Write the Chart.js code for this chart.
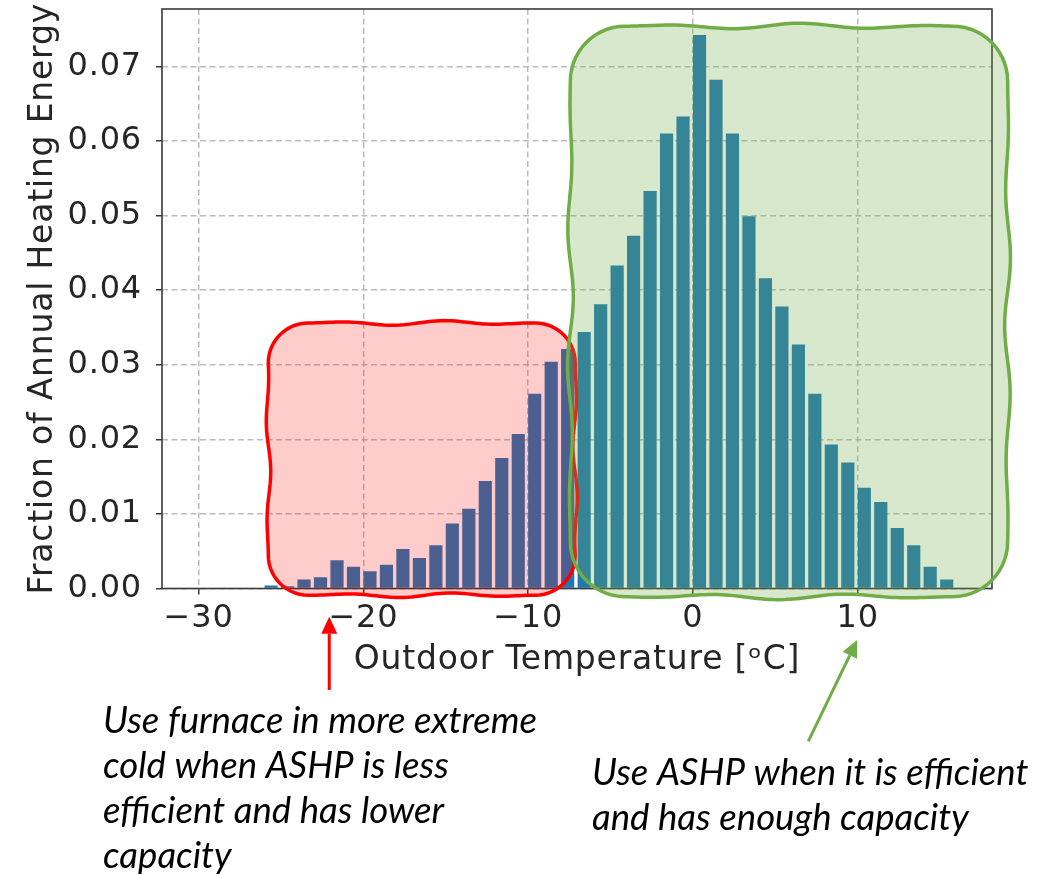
<!DOCTYPE html>
<html>
<head>
<meta charset="utf-8">
<script src="https://cdn.jsdelivr.net/npm/chart.js@4/dist/chart.umd.min.js"></script>
<style>
  html, body { margin: 0; padding: 0; background: #fff; }
  #wrap { width: 1043px; height: 875px; }
</style>
</head>
<body>
<div id="wrap"><canvas id="myChart" width="1043" height="875"></canvas></div>
<script>
// bin centres (outdoor temperature, degC) and fraction of annual heating energy
let temps = [-25.6, -24.6, -23.6, -22.6, -21.6, -20.6, -19.6, -18.6, -17.6, -16.6,
  -15.6, -14.6, -13.6, -12.6, -11.6, -10.6, -9.6, -8.6, -7.6, -6.6,
  -5.6, -4.6, -3.6, -2.6, -1.6, -0.6, 0.4, 1.4, 2.4, 3.4,
  4.4, 5.4, 6.4, 7.4, 8.4, 9.4, 10.4, 11.4, 12.4, 13.4,
  14.4, 15.4];
let fraction = [0.0004, 0.0003, 0.0012, 0.0015, 0.0038, 0.0029, 0.0023, 0.0032, 0.0053, 0.0041,
  0.0058, 0.0087, 0.0107, 0.0144, 0.0175, 0.0207, 0.0261, 0.0304, 0.0321, 0.0344,
  0.0381, 0.0433, 0.0473, 0.0533, 0.0610, 0.0633, 0.0742, 0.0682, 0.0610, 0.0499,
  0.0416, 0.0378, 0.0327, 0.0261, 0.0193, 0.0169, 0.0135, 0.0116, 0.0081, 0.0058,
  0.0029, 0.0012];

let xTicks = [-30, -20, -10, 0, 10];
let yTicks = [0, 0.01, 0.02, 0.03, 0.04, 0.05, 0.06, 0.07];

let leftNote = ['Use furnace in more extreme', 'cold when ASHP is less', 'efficient and has lower', 'capacity'];
let rightNote = ['Use ASHP when it is efficient', 'and has enough capacity'];

// highlighted zones, in data units
let redZone = {x0: -25.77, x1: -7.14, y0: -0.0009, y1: 0.0356, r: 40};
let greenZone = {x0: -7.44, x1: 19.1, y0: -0.0011, y1: 0.0754, r: 55};

/* wavy hand drawn box */
function wobblyBox(ctx, x0, y0, x1, y1, r, amp, wl) {
  let pts = [];
  function seg(ax, ay, bx, by, nx, ny) {
    let L = Math.hypot(bx - ax, by - ay);
    let n = Math.max(2, Math.round(L / 4));
    for (let i = 0; i < n; i++) {
      let t = i / n;
      let w = amp * Math.sin(Math.PI * 2 * t * L / wl) * Math.sin(Math.PI * t);
      pts.push([ax + (bx - ax) * t + nx * w, ay + (by - ay) * t + ny * w]);
    }
  }
  function arc(cx, cy, a0, a1) {
    for (let i = 0; i < 14; i++) {
      let a = a0 + (a1 - a0) * i / 14;
      pts.push([cx + r * Math.cos(a), cy + r * Math.sin(a)]);
    }
  }
  seg(x0 + r, y0, x1 - r, y0, 0, -1); arc(x1 - r, y0 + r, -Math.PI / 2, 0);
  seg(x1, y0 + r, x1, y1 - r, 1, 0); arc(x1 - r, y1 - r, 0, Math.PI / 2);
  seg(x1 - r, y1, x0 + r, y1, 0, 1); arc(x0 + r, y1 - r, Math.PI / 2, Math.PI);
  seg(x0, y1 - r, x0, y0 + r, -1, 0); arc(x0 + r, y0 + r, Math.PI, 1.5 * Math.PI);
  ctx.beginPath();
  pts.forEach(function(p, i) { if (i) ctx.lineTo(p[0], p[1]); else ctx.moveTo(p[0], p[1]); });
  ctx.closePath();
}

function arrow(ctx, x0, y0, x1, y1, color) {
  let ang = Math.atan2(y1 - y0, x1 - x0);
  let hl = 17, hw = 8;
  let bx = x1 - hl * Math.cos(ang), by = y1 - hl * Math.sin(ang);
  ctx.strokeStyle = color; ctx.fillStyle = color; ctx.lineWidth = 3;
  ctx.beginPath(); ctx.moveTo(x0, y0); ctx.lineTo(bx, by); ctx.stroke();
  ctx.beginPath();
  ctx.moveTo(x1, y1);
  ctx.lineTo(bx + hw * Math.sin(ang), by - hw * Math.cos(ang));
  ctx.lineTo(bx - hw * Math.sin(ang), by + hw * Math.cos(ang));
  ctx.closePath(); ctx.fill();
}

let framePlugin = {
  id: 'frame',
  beforeDraw: function(chart) {
    chart.ctx.letterSpacing = '0.8px';
  },
  afterDatasetsDraw: function(chart) {
    let a = chart.chartArea, ctx = chart.ctx;
    ctx.save();
    ctx.strokeStyle = '#3a3a3a'; ctx.lineWidth = 1.6;
    ctx.strokeRect(a.left, a.top, a.right - a.left, a.bottom - a.top);
    ctx.restore();
  }
};

let notesPlugin = {
  id: 'notes',
  afterDraw: function(chart) {
    let ctx = chart.ctx, sx = chart.scales.x, sy = chart.scales.y;
    ctx.save();
    ctx.letterSpacing = '0px';
    // red zone
    wobblyBox(ctx, sx.getPixelForValue(redZone.x0), sy.getPixelForValue(redZone.y1),
      sx.getPixelForValue(redZone.x1), sy.getPixelForValue(redZone.y0), redZone.r, 2.5, 110);
    ctx.fillStyle = 'rgba(255,0,0,0.2)'; ctx.fill();
    ctx.strokeStyle = '#ff0000'; ctx.lineWidth = 3.5; ctx.lineJoin = 'round'; ctx.stroke();
    // green zone
    wobblyBox(ctx, sx.getPixelForValue(greenZone.x0), sy.getPixelForValue(greenZone.y1),
      sx.getPixelForValue(greenZone.x1), sy.getPixelForValue(greenZone.y0), greenZone.r, 3, 140);
    ctx.fillStyle = 'rgba(112,173,71,0.28)'; ctx.fill();
    ctx.strokeStyle = '#70ad47'; ctx.lineWidth = 3.5; ctx.stroke();

    // arrows
    arrow(ctx, sx.getPixelForValue(-22.07), sy.getPixelForValue(-0.0136),
      sx.getPixelForValue(-22.07), sy.getPixelForValue(-0.0038), '#ff0000');
    arrow(ctx, sx.getPixelForValue(7.0), sy.getPixelForValue(-0.0205),
      sx.getPixelForValue(9.97), sy.getPixelForValue(-0.0069), '#70ad47');

    // notes
    ctx.font = 'italic 30px Lato';
    let fs = 30 * 434 / ctx.measureText(leftNote[0]).width;
    ctx.font = 'italic ' + fs.toFixed(1) + 'px Lato';
    ctx.fillStyle = '#000'; ctx.textAlign = 'left'; ctx.textBaseline = 'alphabetic';
    leftNote.forEach(function(t, i) { ctx.fillText(t, 103, 733 + i * 45); });
    rightNote.forEach(function(t, i) { ctx.fillText(t, 592, 785 + i * 45); });
    ctx.restore();
  }
};

let tickFont = {family: 'DejaVu Sans', size: 32};
let titleFont = {family: 'DejaVu Sans', size: 33};
let gridOpts = {
  color: 'rgba(176,176,176,0.85)', lineWidth: 1.5, offset: false,
  tickLength: 6, tickColor: '#3a3a3a', tickWidth: 1.5, tickBorderDash: []
};

let config = {
  type: 'bar',
  data: {
    datasets: [{
      data: temps.map(function(t, i) { return {x: t, y: fraction[i]}; }),
      backgroundColor: '#1f77b4',
      borderWidth: 0,
      barPercentage: 0.8,
      categoryPercentage: 1.0
    }]
  },
  options: {
    responsive: false,
    animation: false,
    layout: { padding: { left: 0, top: 9, right: 51, bottom: 0 } },
    plugins: { legend: { display: false }, tooltip: { enabled: false } },
    scales: {
      x: {
        type: 'linear',
        offset: false,
        min: -32.22,
        max: 18.15,
        afterFit: function(s) { s.height = 875 - 588.5; s.paddingLeft = 0; s.paddingRight = 0; },
        afterBuildTicks: function(s) { s.ticks = xTicks.map(function(v) { return {value: v}; }); },
        ticks: {
          autoSkip: false, maxRotation: 0, padding: 5,
          color: '#262626', font: tickFont,
          callback: function(v) { return v < 0 ? '\u2212' + Math.abs(v) : String(v); }
        },
        grid: gridOpts,
        border: { display: false, dash: [6, 3.5] },
        title: {
          display: true, text: 'Outdoor Temperature [\u1D52C]',
          color: '#262626', font: titleFont, padding: { top: 0, bottom: 195 }
        }
      },
      y: {
        min: 0,
        max: 0.0777,
        afterFit: function(s) { s.width = 162; s.paddingTop = 0; s.paddingBottom = 0; },
        afterBuildTicks: function(s) { s.ticks = yTicks.map(function(v) { return {value: v}; }); },
        ticks: {
          autoSkip: false, padding: 14,
          color: '#262626', font: tickFont,
          callback: function(v) { return v.toFixed(2); }
        },
        grid: gridOpts,
        border: { display: false, dash: [6, 3.5] },
        title: {
          display: true, text: 'Fraction of Annual Heating Energy',
          color: '#262626', font: titleFont, padding: { top: 24, bottom: 0 }
        }
      }
    }
  },
  plugins: [framePlugin, notesPlugin]
};

let myChart = new Chart(document.getElementById('myChart'), config);
</script>
</body>
</html>
